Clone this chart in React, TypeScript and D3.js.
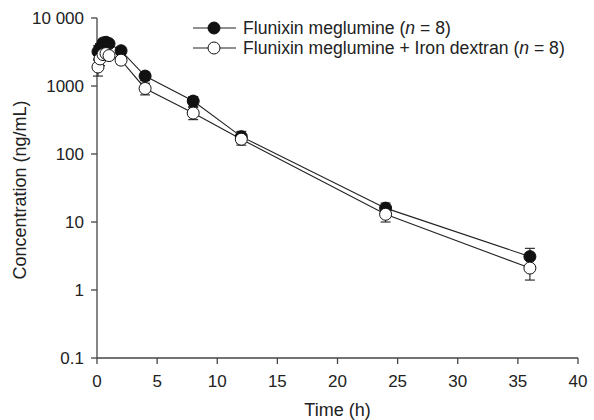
import React from "react";
import * as d3 from "d3";

const times = [0.083, 0.25, 0.5, 0.75, 1, 2, 4, 8, 12, 24, 36];
const fmMean = [3200, 3600, 4300, 4400, 4200, 3300, 1400, 600, 180, 16, 3.1];
const fmSd = [700, 600, 500, 400, 400, 400, 200, 100, 35, 3, 1.0];
const fmIdMean = [1900, 2500, 2900, 3000, 2800, 2400, 920, 400, 165, 13, 2.1];
const fmIdSd = [500, 500, 400, 300, 300, 300, 180, 80, 30, 3, 0.7];
const xTicks = [0, 5, 10, 15, 20, 25, 30, 35, 40];
const yTicks = [0.1, 1, 10, 100, 1000, 10000];
const yTickLabels = ["0.1", "1", "10", "100", "1000", "10 000"];

const W = 594, H = 420;
const left = 97, right = 578, top = 18, bottom = 358;

export default function App() {
  const x = d3.scaleLinear().domain([0, 40]).range([left, right]);
  const y = d3.scaleLog().domain([0.1, 10000]).range([bottom, top]);
  const line = d3.line<number>().x((_, i) => x(times[i])).y((d) => y(d));
  const axisColor = "#444";
  const font = "Liberation Sans, Arial, sans-serif";
  const series = [
    { mean: fmMean, sd: fmSd, fill: "#111" },
    { mean: fmIdMean, sd: fmIdSd, fill: "#fff" },
  ];
  const r = 6;
  return (
    <svg width={W} height={H} style={{ position: "absolute", left: 0, top: 0, background: "#fff" }}>
      <line x1={left} x2={left} y1={top} y2={bottom} stroke={axisColor} strokeWidth={1.3} />
      <line x1={left} x2={right} y1={bottom} y2={bottom} stroke={axisColor} strokeWidth={1.3} />
      {yTicks.map((t, i) => (
        <g key={t}>
          <line x1={left - 6} x2={left} y1={y(t)} y2={y(t)} stroke={axisColor} strokeWidth={1.3} />
          <text x={left - 13} y={y(t)} dy="0.35em" textAnchor="end" fontSize={17} fontFamily={font} fill="#222">
            {yTickLabels[i]}
          </text>
        </g>
      ))}
      {xTicks.map((t) => (
        <g key={t}>
          <line x1={x(t)} x2={x(t)} y1={bottom} y2={bottom + 6} stroke={axisColor} strokeWidth={1.3} />
          <text x={x(t)} y={bottom + 29} textAnchor="middle" fontSize={17} fontFamily={font} fill="#222">
            {t}
          </text>
        </g>
      ))}
      <text x={(left + right) / 2} y={416} textAnchor="middle" fontSize={18} fontFamily={font} fill="#222">
        Time (h)
      </text>
      <text
        transform={`translate(26,${(top + bottom) / 2 + 2}) rotate(-90)`}
        textAnchor="middle"
        fontSize={18}
        fontFamily={font}
        fill="#222"
      >
        Concentration (ng/mL)
      </text>
      {series.map((s, k) => (
        <path key={"l" + k} d={line(s.mean) || ""} fill="none" stroke="#222" strokeWidth={1.1} />
      ))}
      {series.map((s, k) => (
        <g key={"e" + k}>
          {s.mean.map((m, i) => {
            const cx = x(times[i]);
            const hi = y(m + s.sd[i]);
            const lo = y(Math.max(m - s.sd[i], 0.1));
            return (
              <g key={i} stroke="#222" strokeWidth={1.1}>
                <line x1={cx} x2={cx} y1={hi} y2={lo} />
                <line x1={cx - 5} x2={cx + 5} y1={hi} y2={hi} />
                <line x1={cx - 5} x2={cx + 5} y1={lo} y2={lo} />
              </g>
            );
          })}
        </g>
      ))}
      {series.map((s, k) => (
        <g key={"m" + k}>
          {s.mean.map((m, i) => (
            <circle key={i} cx={x(times[i])} cy={y(m)} r={r} fill={s.fill} stroke="#111" strokeWidth={1} />
          ))}
        </g>
      ))}
      {series.map((s, k) => {
        const ly = 28 + k * 20;
        return (
          <g key={"lg" + k}>
            <line x1={193} x2={236} y1={ly} y2={ly} stroke="#222" strokeWidth={1.1} />
            <circle cx={214} cy={ly} r={r} fill={s.fill} stroke="#111" strokeWidth={1} />
            <text x={243} y={ly} dy="0.35em" fontSize={17.6} fontFamily={font} fill="#222">
              {k === 0 ? "Flunixin meglumine (" : "Flunixin meglumine + Iron dextran ("}
              <tspan fontStyle="italic">n</tspan>
              {" = 8)"}
            </text>
          </g>
        );
      })}
    </svg>
  );
}
